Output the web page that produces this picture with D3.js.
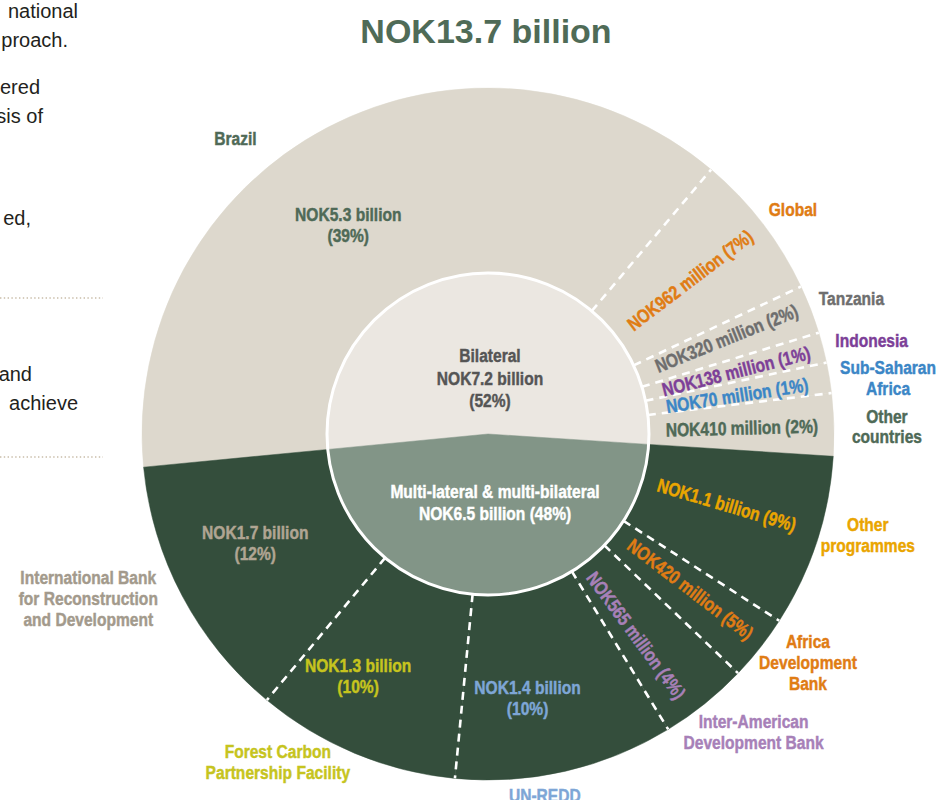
<!DOCTYPE html>
<meta charset="utf-8">
<script src="https://d3js.org/d3.v7.min.js"></script>
<style>
  body { margin: 0; background: #fff; }
  .lbl { font-family: "Liberation Sans", Arial, sans-serif; font-weight: bold; font-size: 19px; stroke-width: 0.45px; }
  .body { font-family: "Liberation Sans", Arial, sans-serif; font-size: 20px; fill: #231f20; }
</style>
<div id="my_dataviz"></div>
<script>

// inner pie (NOK million)
var groupTotals = [7200, 6500];
var groupLabels = [["Bilateral", "NOK7.2 billion", "(52%)"], ["Multi-lateral & multi-bilateral", "NOK6.5 billion (48%)"]];

// bilateral recipients
var bilNames = ["Brazil", "Global", "Tanzania", "Indonesia", "Sub-Saharan\nAfrica", "Other\ncountries"];
var bilValues = [5300, 962, 320, 138, 70, 410];
var bilAmount = ["NOK5.3 billion", "NOK962 million", "NOK320 million", "NOK138 million", "NOK70 million", "NOK410 million"];
var bilPct = ["39%", "7%", "2%", "1%", "1%", "2%"];

// multi-lateral & multi-bilateral channels
var mulNames = ["Other\nprogrammes", "Africa\nDevelopment\nBank", "Inter-American\nDevelopment Bank", "UN-REDD", "Forest Carbon\nPartnership Facility", "International Bank\nfor Reconstruction\nand Development"];
var mulValues = [1100, 420, 565, 1400, 1300, 1700];
var mulAmount = ["NOK1.1 billion", "NOK420 million", "NOK565 million", "NOK1.4 billion", "NOK1.3 billion", "NOK1.7 billion"];
var mulPct = ["9%", "5%", "4%", "10%", "10%", "12%"];

// fragments of the page text cut off on the left
var sideText = ["national", "proach.", "ered", "sis of", "ed,", "and", "achieve"];

// label colours
var bilColors = ["#4f6a57", "#e07c14", "#6e6e6e", "#7d3f98", "#3b86c6", "#4f6a57"];
var mulColors = ["#eaa500", "#e07c14", "#a780b8", "#7ea6d6", "#c6c41e", "#b0a593"];
var mulNameColors = ["#eaa500", "#e07c14", "#a780b8", "#7ea6d6", "#c6c41e", "#a39a8c"];

// label placement: value label radius/angle shift, flat = two lines, name label radius/angle shift
var bilLayout = [
  {vr: 252, va: -6, flat: true, nr: 389, na: -12.8},
  {vr: 254, va: 0.2, nr: 379, na: 1.1},
  {vr: 257, va: -0.8, nr: 388, na: 0.6},
  {vr: 256, va: 0.2, nr: 395, na: 0.7},
  {vr: 252, va: 0.5, nr: 404, na: 1.3},
  {vr: 254, va: 0.1, nr: 399, na: 0.4}
];
var mulLayout = [
  {vr: 249, va: -1.7, nr: 393, na: -3.3},
  {vr: 255, va: -0.8, nr: 393, na: -2.7},
  {vr: 250, va: 2.4, nr: 399, na: -2.9},
  {vr: 266, va: 4.4, flat: true, nr: 365, na: 4},
  {vr: 274, va: 5.7, flat: true, nr: 389, na: 10.1},
  {vr: 257, va: 2.8, flat: true, nr: 432, na: 5.6}
];

var W = 944, H = 800;
var cx = 488, cy = 434, innerR = 161, outerR = 346;
var rad = Math.PI / 180;
var minShown = 200; // thinnest slices are drawn at least this wide
var narrow = " scale(0.82,1)"; // condensed look for the labels

var svg = d3.select("#my_dataviz").append("svg").attr("width", W).attr("height", H);

// side text
var sideX = [78, 68, 40, 43, 31, 32, 78];
var sideY = [18, 47, 94, 123, 225, 381, 410];
svg.selectAll("text.body").data(sideText).enter().append("text")
  .attr("class", "body").attr("text-anchor", "end")
  .attr("x", function(d, i) { return sideX[i]; })
  .attr("y", function(d, i) { return sideY[i]; })
  .text(function(d) { return d; });
[298, 457].forEach(function(y) {
  svg.append("line").attr("x1", 0).attr("x2", 103).attr("y1", y).attr("y2", y)
    .attr("stroke", "#c9bda9").attr("stroke-width", 1.4).attr("stroke-dasharray", "1.4,2.4");
});

// title
svg.append("text").attr("x", cx - 2).attr("y", 43).attr("text-anchor", "middle")
  .style("font-family", "'Liberation Sans', Arial, sans-serif").style("font-weight", "bold")
  .style("font-size", "34px").attr("fill", "#4f6b57").text("NOK13.7 billion");

var g = svg.append("g").attr("transform", "translate(" + cx + "," + cy + ")");

var innerPie = d3.pie().sort(null).startAngle(-95.5 * rad).endAngle(264.5 * rad)(groupTotals);
var innerArc = d3.arc().innerRadius(0).outerRadius(innerR);
var ringArc = d3.arc().innerRadius(innerR).outerRadius(outerR);

function ringSlices(values, grp) {
  return d3.pie().sort(null).value(function(d) { return Math.max(d, minShown); })
    .startAngle(grp.startAngle).endAngle(grp.endAngle)(values);
}
var bilSlices = ringSlices(bilValues, innerPie[0]);
var mulSlices = ringSlices(mulValues, innerPie[1]);

var ringFill = ["#ddd8cd", "#344e3c"];
var innerFill = ["#ebe7e1", "#829587"];

// outer ring
[bilSlices, mulSlices].forEach(function(sl, k) {
  g.append("g").selectAll("path").data(sl).enter().append("path")
    .attr("d", ringArc).attr("fill", ringFill[k]).attr("stroke", ringFill[k]).attr("stroke-width", 0.5);
});

// inner pie
g.append("g").selectAll("path").data(innerPie).enter().append("path")
  .attr("d", innerArc).attr("fill", function(d, i) { return innerFill[i]; })
  .attr("stroke", function(d, i) { return innerFill[i]; }).attr("stroke-width", 0.5);
g.append("circle").attr("r", innerR).attr("fill", "none").attr("stroke", "#fff").attr("stroke-width", 3);

// dashed separators inside each group
[bilSlices, mulSlices].forEach(function(sl) {
  g.append("g").selectAll("line").data(sl.slice(1)).enter().append("line")
    .attr("x1", function(d) { return d3.pointRadial(d.startAngle, innerR)[0]; })
    .attr("y1", function(d) { return d3.pointRadial(d.startAngle, innerR)[1]; })
    .attr("x2", function(d) { return d3.pointRadial(d.startAngle, outerR)[0]; })
    .attr("y2", function(d) { return d3.pointRadial(d.startAngle, outerR)[1]; })
    .attr("stroke", "#fff").attr("stroke-width", 2.6).attr("stroke-dasharray", "8,6");
});

function lines(text, arr, lh) {
  arr.forEach(function(t, i) {
    text.append("tspan").attr("x", 0)
      .attr("dy", i === 0 ? (-(arr.length - 1) / 2 * lh + 7) : lh).text(t);
  });
}

function midDeg(d) { return (d.startAngle + d.endAngle) / 2 / rad; }

function drawLabels(sl, names, amount, pct, layout, colors, nameColors) {
  sl.forEach(function(d, i) {
    var L = layout[i];
    var a = midDeg(d) + L.va;
    var p = d3.pointRadial(a * rad, L.vr);
    var t = g.append("text").attr("class", "lbl").attr("text-anchor", "middle")
      .attr("fill", colors[i]).attr("stroke", colors[i])
      .attr("transform", "translate(" + p[0] + "," + p[1] + ")" + (L.flat ? "" : " rotate(" + (a - 90) + ")") + narrow);
    if (L.flat) lines(t, [amount[i], "(" + pct[i] + ")"], 21);
    else lines(t, [amount[i] + " (" + pct[i] + ")"], 21);

    var an = midDeg(d) + L.na;
    var q = d3.pointRadial(an * rad, L.nr);
    var n = g.append("text").attr("class", "lbl").attr("text-anchor", "middle")
      .attr("transform", "translate(" + q[0] + "," + q[1] + ")" + narrow)
      .attr("fill", nameColors[i]).attr("stroke", nameColors[i]);
    lines(n, names[i].split("\n"), 21);
  });
}
drawLabels(bilSlices, bilNames, bilAmount, bilPct, bilLayout, bilColors, bilColors);
drawLabels(mulSlices, mulNames, mulAmount, mulPct, mulLayout, mulColors, mulNameColors);

// inner labels
var innerLayout = [{r: 56.5, a: 2.9, color: "#555555"}, {r: 68.4, a: -5, color: "#ffffff"}];
innerPie.forEach(function(d, i) {
  var L = innerLayout[i];
  var p = d3.pointRadial((midDeg(d) + L.a) * rad, L.r);
  var t = g.append("text").attr("class", "lbl").attr("text-anchor", "middle")
    .attr("transform", "translate(" + p[0] + "," + p[1] + ")" + narrow)
    .attr("fill", L.color).attr("stroke", L.color);
  lines(t, groupLabels[i], 22.7);
});

</script>
